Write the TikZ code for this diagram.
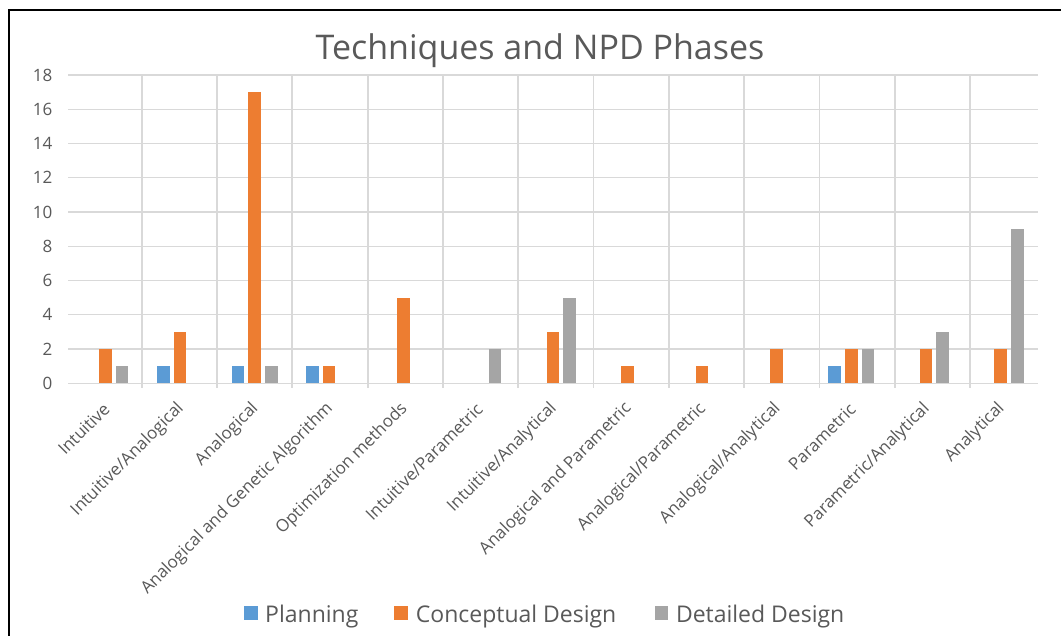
\documentclass[tikz,border=0pt]{standalone}
\usepackage{fontspec}
\setmainfont{Open Sans}
\definecolor{txt}{HTML}{595959}
\definecolor{gridc}{HTML}{D9D9D9}
\definecolor{pblue}{HTML}{5B9BD5}
\definecolor{porange}{HTML}{ED7D31}
\definecolor{pgray}{HTML}{A5A5A5}
\tikzset{
  gridh/.style={draw=gridc, line width=1.4pt},
  gridv/.style={draw=gridc, line width=1.8pt},
  ylab/.style={anchor=east, inner sep=0pt, text=txt, font=\fontsize{17}{20}\selectfont},
  xlab/.style={anchor=east, inner sep=0pt, rotate=45, text=txt, font=\fontsize{17}{20}\selectfont},
  legtxt/.style={anchor=base west, inner sep=0pt, text=txt, font=\fontsize{23}{27}\selectfont},
  titletxt/.style={anchor=base, inner sep=0pt, text=txt, font=\fontsize{34}{40}\selectfont},
}
\begin{document}
\begin{tikzpicture}[x=1pt,y=-1pt]
\useasboundingbox (0,0) rectangle (1061,635);
\fill[white] (0,0) rectangle (1061,635);
\draw[line width=2pt] (9,640) -- (9,10) -- (1065,10);

% horizontal gridlines and y labels
\foreach \v in {0,2,...,18} {
  \draw[gridh] (68.3,{383.3-17.13*\v}) -- (1037.7,{383.3-17.13*\v});
  \node[ylab] (y\v) at (52.5,{383.3-17.13*\v}) {\v};
}
% vertical gridlines
\foreach \k in {1,...,12} {
  \draw[gridv] ({141.7+75.3*(\k-1)},75) -- ({141.7+75.3*(\k-1)},388.3);
}

% bars: Planning
\foreach \i/\v in {1/1,2/1,3/1,10/1} {
  \fill[pblue] ({68.3+74.6*\i+14},383.3) rectangle ++(12.7,{-17.13*\v});
}
% Conceptual Design
\foreach \i/\v in {0/2,1/3,2/17,3/1,4/5,6/3,7/1,8/1,9/2,10/2,11/2,12/2} {
  \fill[porange] ({68.3+74.6*\i+30.65},383.3) rectangle ++(12.7,{-17.13*\v});
}
% Detailed Design
\foreach \i/\v in {0/1,2/1,5/2,6/5,10/2,11/3,12/9} {
  \fill[pgray] ({68.3+74.6*\i+47.3},383.3) rectangle ++(12.7,{-17.13*\v});
}

% x labels
\node[xlab] (x0) at ({68.3+74.6*0.5+1},406) {Intuitive};
\node[xlab] (x1) at ({68.3+74.6*1.5+1},406) {Intuitive/Analogical};
\node[xlab] (x2) at ({68.3+74.6*2.5+1},406) {Analogical};
\node[xlab] (x3) at ({68.3+74.6*3.5+1},406) {Analogical and Genetic Algorithm};
\node[xlab] (x4) at ({68.3+74.6*4.5+1},406) {Optimization methods};
\node[xlab] (x5) at ({68.3+74.6*5.5+1},406) {Intuitive/Parametric};
\node[xlab] (x6) at ({68.3+74.6*6.5+1},406) {Intuitive/Analytical};
\node[xlab] (x7) at ({68.3+74.6*7.5+1},406) {Analogical and Parametric};
\node[xlab] (x8) at ({68.3+74.6*8.5+1},406) {Analogical/Parametric};
\node[xlab] (x9) at ({68.3+74.6*9.5+1},406) {Analogical/Analytical};
\node[xlab] (x10) at ({68.3+74.6*10.5+1},406) {Parametric};
\node[xlab] (x11) at ({68.3+74.6*11.5+1},406) {Parametric/Analytical};
\node[xlab] (x12) at ({68.3+74.6*12.5+1},406) {Analytical};

% title
\node[titletxt] (title) at (540,59.5) {Techniques and NPD Phases};

% legend
\fill[pblue] (244,606) rectangle (257.5,619.5);
\node[legtxt] (lp) at (265,622) {Planning};
\fill[porange] (394,606) rectangle (407.5,619.5);
\node[legtxt] (lc) at (415.7,622) {Conceptual Design};
\fill[pgray] (654.6,606) rectangle (668.1,619.5);
\node[legtxt] (ld) at (675.8,622) {Detailed Design};
\end{tikzpicture}
\end{document}
